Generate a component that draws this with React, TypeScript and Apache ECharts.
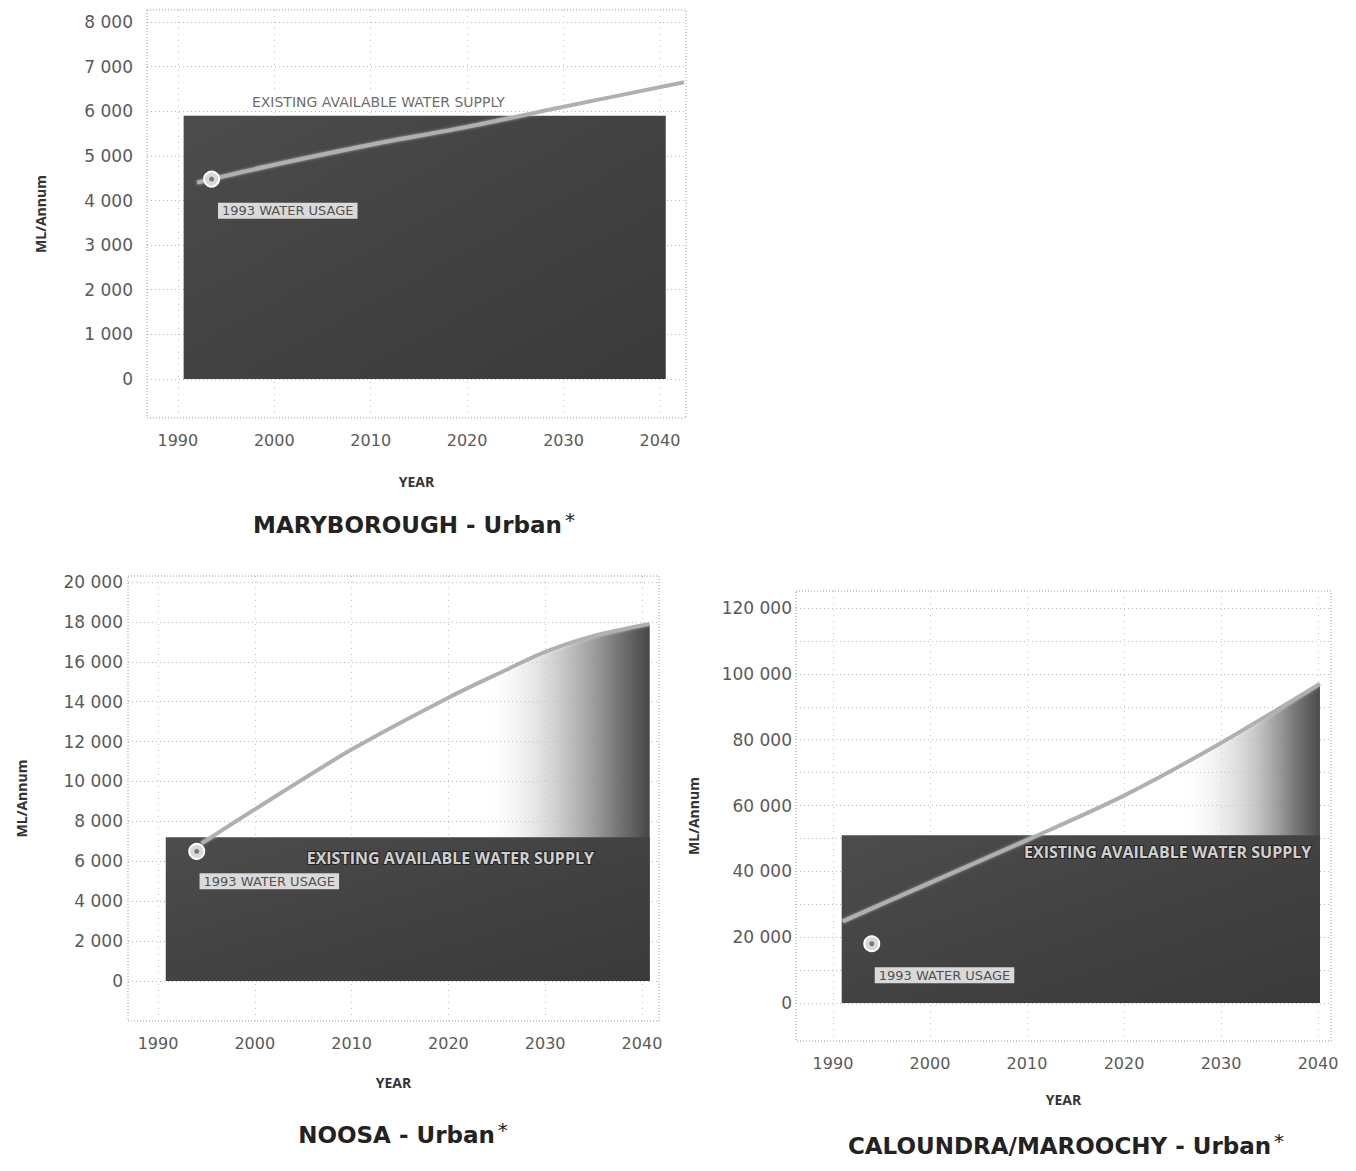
import React, { useEffect, useRef } from 'react';
import * as echarts from 'echarts';

// ---------- shared ----------
const X_LABELS = [1990, 2000, 2010, 2020, 2030, 2040];

// ---------- MARYBOROUGH ----------
const maryTitle = 'MARYBOROUGH - Urban';
const maryYLabels = [0, 1000, 2000, 3000, 4000, 5000, 6000, 7000, 8000];
const maryDemandYears = [1992, 2000, 2010, 2020, 2030, 2042.5];
const maryDemand = [4400, 4800, 5250, 5650, 6100, 6650];
const marySupplyYears = [1990.6, 2040.6];
const marySupply = 5900;
const maryUsage1993 = [1993.5, 4480];
const maryUsageLabelAt = [2001.4, 3770];
const marySupplyLabelAt = [2010.8, 6200];

// ---------- NOOSA ----------
const noosaTitle = 'NOOSA - Urban';
const noosaYLabels = [0, 2000, 4000, 6000, 8000, 10000, 12000, 14000, 16000, 18000, 20000];
const noosaDemandYears = [1994.5, 2000, 2010, 2020, 2026, 2030, 2035, 2040.8];
const noosaDemand = [6900, 8600, 11600, 14200, 15600, 16500, 17300, 17900];
const noosaSupplyYears = [1990.8, 2040.8];
const noosaSupply = 7200;
const noosaUsage1993 = [1994, 6500];
const noosaUsageLabelAt = [2001.5, 5000];
const noosaSupplyLabelAt = [2020.2, 6150];

// ---------- CALOUNDRA / MAROOCHY ----------
const calTitle = 'CALOUNDRA/MAROOCHY - Urban';
const calYLabels = [0, 20000, 40000, 60000, 80000, 100000, 120000];
const calGridLines = [0, 10000, 20000, 30000, 40000, 50000, 60000, 70000, 80000, 90000, 100000, 110000, 120000];
const calDemandYears = [1991, 2000, 2010, 2020, 2030, 2040.2];
const calDemand = [24800, 36500, 49500, 63000, 79000, 97000];
const calSupplyYears = [1990.9, 2040.2];
const calSupply = 51000;
const calUsage1993 = [1994, 18000];
const calUsageLabelAt = [2001.5, 8400];
const calSupplyLabelAt = [2024.5, 46000];

const FONT = "'Open Sans', 'DejaVu Sans', sans-serif";
const NUMFONT = "'DejaVu Sans', sans-serif";
const TITLEFONT = "'DejaVu Sans', sans-serif";
const fmt = (v: number) => String(v).replace(/\B(?=(\d{3})+(?!\d))/g, ' ');

type Panel = {
  box: { left: number; top: number; width: number; height: number };
  xMin: number; xMax: number; yMin: number; yMax: number;
  yLabels: number[]; yLines: number[];
  yLabelMargin: number; yNameGap: number; xNameGap: number;
  demandYears: number[]; demand: number[];
  supplyYears: number[]; supply: number;
  usage: number[]; usageLabelAt: number[]; supplyLabelAt: number[];
  supplyLabelStyle: 'above' | 'inside';
  shade: null | { stops: { offset: number; color: string }[] };
  title: string; titleAt: number[];
};

const panels: Panel[] = [
  {
    box: { left: 147, top: 10, width: 539, height: 408 },
    xMin: 1986.8, xMax: 2042.7, yMin: -875, yMax: 8270,
    yLabels: maryYLabels, yLines: maryYLabels,
    yLabelMargin: 14, yNameGap: 100, xNameGap: 56,
    demandYears: maryDemandYears, demand: maryDemand,
    supplyYears: marySupplyYears, supply: marySupply,
    usage: maryUsage1993, usageLabelAt: maryUsageLabelAt, supplyLabelAt: marySupplyLabelAt,
    supplyLabelStyle: 'above', shade: null,
    title: maryTitle, titleAt: [414, 525],
  },
  {
    box: { left: 128, top: 576, width: 531, height: 445 },
    xMin: 1986.9, xMax: 2041.76, yMin: -2005, yMax: 20300,
    yLabels: noosaYLabels, yLines: noosaYLabels,
    yLabelMargin: 5, yNameGap: 100, xNameGap: 54,
    demandYears: noosaDemandYears, demand: noosaDemand,
    supplyYears: noosaSupplyYears, supply: noosaSupply,
    usage: noosaUsage1993, usageLabelAt: noosaUsageLabelAt, supplyLabelAt: noosaSupplyLabelAt,
    supplyLabelStyle: 'inside',
    shade: {
      stops: [
        { offset: 0, color: 'rgba(255,255,255,0)' },
        { offset: 0.62, color: 'rgba(255,255,255,0)' },
        { offset: 0.8, color: 'rgba(185,185,185,0.75)' },
        { offset: 0.93, color: 'rgba(110,110,110,0.95)' },
        { offset: 1, color: 'rgba(70,70,70,1)' },
      ],
    },
    title: noosaTitle, titleAt: [403, 1135],
  },
  {
    box: { left: 796, top: 591, width: 535, height: 450 },
    xMin: 1986.19, xMax: 2041.34, yMin: -11544, yMax: 125165,
    yLabels: calYLabels, yLines: calGridLines,
    yLabelMargin: 4, yNameGap: 96, xNameGap: 51,
    demandYears: calDemandYears, demand: calDemand,
    supplyYears: calSupplyYears, supply: calSupply,
    usage: calUsage1993, usageLabelAt: calUsageLabelAt, supplyLabelAt: calSupplyLabelAt,
    supplyLabelStyle: 'inside',
    shade: {
      stops: [
        { offset: 0, color: 'rgba(255,255,255,0)' },
        { offset: 0.7, color: 'rgba(255,255,255,0)' },
        { offset: 0.86, color: 'rgba(185,185,185,0.75)' },
        { offset: 0.95, color: 'rgba(110,110,110,0.95)' },
        { offset: 1, color: 'rgba(75,75,75,1)' },
      ],
    },
    title: calTitle, titleAt: [1066, 1146],
  },
];

function buildOption() {
  const grid: any[] = [];
  const xAxis: any[] = [];
  const yAxis: any[] = [];
  const series: any[] = [];
  const graphic: any[] = [];

  panels.forEach((p, i) => {
    grid.push({ ...p.box, show: false });
    xAxis.push({
      type: 'value', gridIndex: i, min: p.xMin, max: p.xMax,
      name: 'YEAR', nameLocation: 'middle', nameGap: p.xNameGap,
      nameTextStyle: { fontFamily: FONT, fontWeight: 'bold', fontSize: 14, color: '#333' },
      axisLine: { show: false },
      axisTick: { show: false, customValues: X_LABELS },
      axisLabel: { customValues: X_LABELS, margin: 14, fontFamily: NUMFONT, fontSize: 16, color: '#5a5a5a', formatter: (v: number) => String(v) },
      splitLine: { show: true, lineStyle: { color: '#c4c4c4', type: [1, 5], width: 1 } },
    });
    yAxis.push({
      type: 'value', gridIndex: i, min: p.yMin, max: p.yMax,
      name: 'ML/Annum', nameLocation: 'middle', nameGap: p.yNameGap,
      nameTextStyle: { fontFamily: FONT, fontWeight: 'bold', fontSize: 14, color: '#333' },
      axisLine: { show: false },
      axisTick: { show: false, customValues: p.yLines },
      axisLabel: { customValues: p.yLabels, margin: p.yLabelMargin, fontFamily: NUMFONT, fontSize: 17, color: '#5a5a5a', formatter: (v: number) => fmt(v) },
      splitLine: { show: true, lineStyle: { color: '#b8b8b8', type: [1, 3], width: 1 } },
    });

    const demandData = p.demandYears.map((y, k) => [y, p.demand[k]]);

    if (p.shade) {
      series.push({
        type: 'line', xAxisIndex: i, yAxisIndex: i, data: demandData, symbol: 'none', smooth: 0.3,
        lineStyle: { width: 0, opacity: 0 }, z: 1, silent: true,
        areaStyle: { color: new echarts.graphic.LinearGradient(0, 0, 1, 0, p.shade.stops), opacity: 1 },
      });
    }

    series.push({
      type: 'line', xAxisIndex: i, yAxisIndex: i, symbol: 'none', z: 2, silent: true,
      data: p.supplyYears.map((y) => [y, p.supply]),
      lineStyle: { width: 0, opacity: 0 },
      areaStyle: {
        opacity: 1,
        color: new echarts.graphic.LinearGradient(0, 0, 1, 1, [
          { offset: 0, color: '#4c4c4c' },
          { offset: 0.5, color: '#424242' },
          { offset: 1, color: '#3a3a3a' },
        ]),
      },
    });

    series.push({
      type: 'line', xAxisIndex: i, yAxisIndex: i, data: demandData, symbol: 'none', smooth: 0.3, z: 3,
      lineStyle: { color: '#b0b0b0', width: 4, shadowColor: 'rgba(255,255,255,0.5)', shadowBlur: 3 },
    });

    series.push({
      type: 'scatter', xAxisIndex: i, yAxisIndex: i, data: [p.usage], z: 4, symbolSize: 15,
      itemStyle: { color: '#d8d8d8', borderColor: '#ffffff', borderWidth: 2, opacity: 1 },
    });
    series.push({
      type: 'scatter', xAxisIndex: i, yAxisIndex: i, data: [p.usage], z: 5, symbolSize: 5,
      itemStyle: { color: '#777', opacity: 1 },
    });

    series.push({
      type: 'scatter', xAxisIndex: i, yAxisIndex: i, data: [p.usageLabelAt], z: 6, symbolSize: 1,
      itemStyle: { color: 'rgba(0,0,0,0)' },
      label: {
        show: true, position: 'inside', formatter: '1993 WATER USAGE',
        fontFamily: NUMFONT, fontSize: 13, color: '#2a2a2a', backgroundColor: '#ffffff', padding: [2, 4, 1, 4],
      },
    });

    const supLabel: any = p.supplyLabelStyle === 'above'
      ? { fontFamily: NUMFONT, fontSize: 14, color: '#444', backgroundColor: '#fff', padding: [1, 2] }
      : { fontFamily: FONT, fontSize: 16, fontWeight: 'bold', color: '#fff', textBorderColor: '#1a1a1a', textBorderWidth: 2 };
    series.push({
      type: 'scatter', xAxisIndex: i, yAxisIndex: i, data: [p.supplyLabelAt], z: 6, symbolSize: 1,
      itemStyle: { color: 'rgba(0,0,0,0)' },
      label: { show: true, position: 'inside', formatter: 'EXISTING AVAILABLE WATER SUPPLY', ...supLabel },
    });

    graphic.push({
      type: 'rect', silent: true, z: 0,
      shape: { x: p.box.left, y: p.box.top, width: p.box.width, height: p.box.height },
      style: { fill: 'none', stroke: '#9a9a9a', lineWidth: 1, lineDash: [1, 2] },
    });
    graphic.push({
      type: 'text', silent: true, x: p.titleAt[0], y: p.titleAt[1],
      style: {
        text: `{t|${p.title}}{s|*}`, align: 'center', verticalAlign: 'middle',
        rich: {
          t: { fontFamily: TITLEFONT, fontWeight: 'bold', fontSize: 23, fill: '#222', color: '#222' },
          s: { fontFamily: TITLEFONT, fontSize: 20, fill: '#222', color: '#222', padding: [0, 0, 10, 3] },
        },
      },
    });
  });

  return { animation: false, backgroundColor: '#ffffff', grid, xAxis, yAxis, series, graphic };
}

export default function App() {
  const ref = useRef<HTMLDivElement>(null);
  useEffect(() => {
    document.body.style.margin = '0';
    if (!ref.current) return;
    const chart = echarts.init(ref.current, undefined, { renderer: 'svg' });
    chart.setOption(buildOption() as any);
    return () => chart.dispose();
  }, []);
  return <div ref={ref} style={{ width: 1356, height: 1171 }} />;
}
